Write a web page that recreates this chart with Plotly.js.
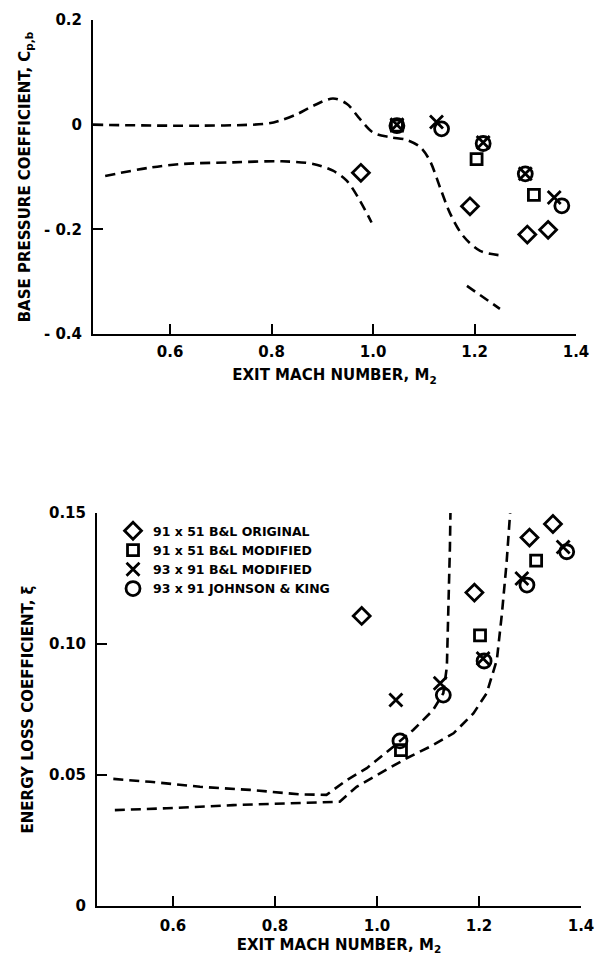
<!DOCTYPE html>
<html>
<head>
<meta charset="utf-8">
<script src="https://cdn.plot.ly/plotly-3.0.1.min.js"></script>
<style>html,body{margin:0;padding:0;background:#fff;}#chart{width:598px;height:963px;}</style>
</head>
<body>
<div id="chart"></div>
<script>
// ---------- Top panel: base pressure coefficient ----------
var topUpperX = [0.448,0.659,0.791,0.817,0.850,0.882,0.921,0.948,0.974,1.000,1.034,1.066,1.093,1.112,1.132,1.152,1.177,1.211,1.254];
var topUpperY = [0.000,-0.002,0.002,0.008,0.020,0.036,0.050,0.040,0.011,-0.015,-0.024,-0.029,-0.043,-0.069,-0.120,-0.170,-0.212,-0.241,-0.250];
var topLowerX = [0.472,0.561,0.626,0.724,0.820,0.882,0.921,0.948,0.974,0.997];
var topLowerY = [-0.098,-0.082,-0.075,-0.072,-0.070,-0.075,-0.088,-0.107,-0.145,-0.187];
var topSegX = [1.185,1.250];
var topSegY = [-0.308,-0.352];

var topDiamondX = [0.976,1.191,1.304,1.345];
var topDiamondY = [-0.092,-0.156,-0.210,-0.201];
var topSquareX = [1.047,1.204,1.317];
var topSquareY = [-0.002,-0.066,-0.134];
var topCrossX = [1.047,1.125,1.217,1.300,1.357];
var topCrossY = [0.000,0.005,-0.034,-0.094,-0.139];
var topCircleX = [1.047,1.135,1.217,1.300,1.372];
var topCircleY = [-0.002,-0.008,-0.036,-0.094,-0.155];

// ---------- Bottom panel: energy loss coefficient ----------
var botLineAX = [0.483,0.555,0.653,0.751,0.849,0.901,0.941,0.980,1.032,1.071,1.110,1.130,1.137,1.140,1.143,1.144];
var botLineAY = [0.0485,0.0474,0.0455,0.0443,0.0426,0.0424,0.0481,0.0526,0.0608,0.0672,0.0748,0.0812,0.0913,0.1117,0.1371,0.1500];
var botLineBX = [0.486,0.588,0.718,0.849,0.927,0.960,1.006,1.058,1.104,1.150,1.189,1.215,1.235,1.245,1.254,1.261];
var botLineBY = [0.0366,0.0373,0.0385,0.0394,0.0398,0.0455,0.0506,0.0564,0.0608,0.0659,0.0735,0.0812,0.0939,0.1117,0.1308,0.1499];

var botDiamondX = [0.970,1.191,1.299,1.345];
var botDiamondY = [0.1107,0.1196,0.1406,0.1458];
var botSquareX = [1.047,1.202,1.312];
var botSquareY = [0.0595,0.1033,0.1318];
var botCrossX = [1.037,1.124,1.208,1.284,1.365];
var botCrossY = [0.0786,0.0850,0.0945,0.1250,0.1370];
var botCircleX = [1.045,1.130,1.210,1.294,1.372];
var botCircleY = [0.0630,0.0805,0.0935,0.1225,0.1352];

var seriesNames = ["91 x 51 B&amp;L ORIGINAL","91 x 51 B&amp;L MODIFIED","93 x 91 B&amp;L MODIFIED","93 x 91 JOHNSON &amp; KING"];

var xTickVals = [0.6,0.8,1.0,1.2,1.4];
var xTickText = ["0.6","0.8","1.0","1.2","1.4"];
var topYTickVals = [0.2,0,-0.2,-0.4];
var topYTickText = ["0.2","0","- 0.2","- 0.4"];
var botYTickVals = [0.15,0.10,0.05,0];
var botYTickText = ["0.15","0.10","0.05","0"];

var dashLine = {color:"#000", width:2.6, dash:"10px,6px"};
function lineTrace(x,y,xa,ya,shape){
  return {x:x,y:y,xaxis:xa,yaxis:ya,mode:"lines",line:Object.assign({shape:shape||"linear",smoothing:0.9},dashLine),showlegend:false,hoverinfo:"skip"};
}
var markerDefs = [
  {symbol:"diamond-open", size:13},
  {symbol:"square-open", size:11},
  {symbol:"x-thin-open", size:13},
  {symbol:"circle-open", size:14}
];
function markTrace(x,y,xa,ya,i,legend){
  return {x:x,y:y,xaxis:xa,yaxis:ya,mode:"markers",name:seriesNames[i],showlegend:legend,
    marker:{symbol:markerDefs[i].symbol,size:markerDefs[i].size,color:"#000",line:{color:"#000",width:2.8}}};
}

var data = [
  lineTrace(topUpperX,topUpperY,"x","y","spline"),
  lineTrace(topLowerX,topLowerY,"x","y","spline"),
  lineTrace(topSegX,topSegY,"x","y"),
  markTrace(topDiamondX,topDiamondY,"x","y",0,false),
  markTrace(topSquareX,topSquareY,"x","y",1,false),
  markTrace(topCrossX,topCrossY,"x","y",2,false),
  markTrace(topCircleX,topCircleY,"x","y",3,false),
  lineTrace(botLineAX,botLineAY,"x2","y2"),
  lineTrace(botLineBX,botLineBY,"x2","y2"),
  markTrace(botDiamondX,botDiamondY,"x2","y2",0,true),
  markTrace(botSquareX,botSquareY,"x2","y2",1,true),
  markTrace(botCrossX,botCrossY,"x2","y2",2,true),
  markTrace(botCircleX,botCircleY,"x2","y2",3,true)
];

var fam = "DejaVu Sans";
var tickFont = {family:fam, size:15, color:"#000", weight:700};
var titleFont = {family:fam, size:15, color:"#000", weight:700};
var axisCommon = {showline:true, linecolor:"#000", linewidth:2, ticks:"inside", ticklen:10, tickwidth:2, tickcolor:"#000",
  showgrid:false, zeroline:false, tickmode:"array", tickfont:tickFont, fixedrange:true};

var layout = {
  width:598, height:963,
  margin:{l:93, r:17, t:20, b:57},
  paper_bgcolor:"#fff", plot_bgcolor:"#fff",
  font:{family:fam, color:"#000", weight:700},
  showlegend:true,
  legend:{x:0.041, y:0.440, xanchor:"left", yanchor:"top", bgcolor:"rgba(0,0,0,0)",
    font:{family:fam, size:12.5, color:"#000", weight:700}, tracegroupgap:0, itemwidth:30},
  xaxis:Object.assign({}, axisCommon, {domain:[0,0.9898], range:[0.448,1.4], anchor:"y",
    tickvals:xTickVals, ticktext:xTickText, ticklabelstandoff:3,
    title:{text:"EXIT MACH NUMBER, M<sub>2</sub>", font:titleFont, standoff:10}}),
  yaxis:Object.assign({}, axisCommon, {domain:[0.6456,1], range:[-0.4,0.2], anchor:"x",
    tickvals:topYTickVals, ticktext:topYTickText, ticklabelstandoff:6,
    title:{text:"BASE PRESSURE COEFFICIENT, C<sub>p,b</sub>", font:titleFont, standoff:10}}),
  xaxis2:Object.assign({}, axisCommon, {domain:[0.0082,1], range:[0.451,1.4], anchor:"y2",
    tickvals:xTickVals, ticktext:xTickText, ticklabelstandoff:5,
    title:{text:"EXIT MACH NUMBER, M<sub>2</sub>", font:titleFont, standoff:5}}),
  yaxis2:Object.assign({}, axisCommon, {domain:[0,0.4436], range:[0,0.15], anchor:"x2",
    tickvals:botYTickVals, ticktext:botYTickText, ticklabelstandoff:6,
    title:{text:"ENERGY LOSS COEFFICIENT, ξ", font:titleFont, standoff:12}})
};

Plotly.newPlot("chart", data, layout, {displayModeBar:false, staticPlot:true});
</script>
</body>
</html>
